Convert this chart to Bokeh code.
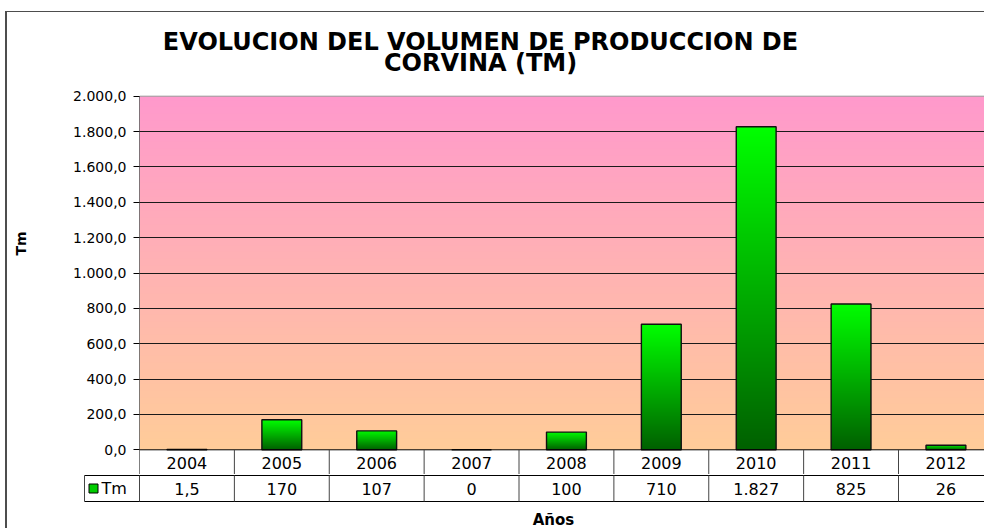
import numpy as np
from bokeh.plotting import figure
from bokeh.models import Range1d, FixedTicker
from bokeh.layouts import column
from bokeh.core.properties import value
from bokeh.embed import file_html
from bokeh.resources import INLINE

# ---------------- data ----------------
years = ["2004", "2005", "2006", "2007", "2008", "2009", "2010", "2011", "2012"]
tm_values = [1.5, 170, 107, 0, 100, 710, 1827, 825, 26]
tm_value_labels = ["1,5", "170", "107", "0", "100", "710", "1.827", "825", "26"]
y_ticks = [0, 200, 400, 600, 800, 1000, 1200, 1400, 1600, 1800, 2000]
y_tick_labels = ["0,0", "200,0", "400,0", "600,0", "800,0", "1.000,0",
                 "1.200,0", "1.400,0", "1.600,0", "1.800,0", "2.000,0"]
title_lines = ["EVOLUCION DEL VOLUMEN DE PRODUCCION DE", "CORVINA (TM)"]
series_name = "Tm"
x_title = "Años"
y_title = "Tm"

# ---------------- layout constants (page pixels) ----------------
FONT = value("DejaVu Sans")
FONT_NAME = "DejaVu Sans"
COL = 94.875                 # px per category
n = len(years)
idx = list(range(n))
X0, Y0 = 7, 12               # content origin on the page
FRAME_L, PAGE_R = 139, 984
ZERO_PX, MAX_PX = 449.3, 95.7
CHART_BOTTOM = 474
PAGE_B = 528
ROW = 26
PXU = y_ticks[-1] / (ZERO_PX - MAX_PX)      # data units per px
x_end = -0.5 + (PAGE_R - FRAME_L) / COL


def px_to_y(py):
    return (ZERO_PX - py) * PXU


def px_to_x(px):
    return (px - FRAME_L) / COL - 0.5


def vgrad(c_bottom, c_top, rows=256):
    t = np.linspace(0.0, 1.0, rows)[:, None]
    a = np.zeros((rows, 1, 4), dtype=np.uint8)
    for k in range(3):
        a[:, :, k] = np.round(c_bottom[k] + (c_top[k] - c_bottom[k]) * t)
    a[:, :, 3] = 255
    return a.view(dtype=np.uint32).reshape(rows, 1)


# ---------------- main chart (title, plot area, years row) ----------------
p = figure(width=PAGE_R - X0, height=CHART_BOTTOM - Y0,
           output_backend="svg", toolbar_location=None,
           x_range=Range1d(-0.5, x_end),
           y_range=Range1d(px_to_y(CHART_BOTTOM), px_to_y(Y0)),
           x_axis_location=None, min_border_left=FRAME_L - X0, min_border_right=0,
           min_border_top=0, min_border_bottom=0)
p.frame_align = False
p.outline_line_color = None
p.border_fill_color = "white"
p.background_fill_color = "white"

bg = vgrad((255, 204, 153), (255, 153, 204))
p.image_rgba(image=[bg], x=-0.5, y=0, dw=n, dh=y_ticks[-1], level="image")

p.xgrid.visible = False
p.ygrid.ticker = FixedTicker(ticks=y_ticks[1:-1])
p.ygrid.grid_line_color = "#1a1a1a"
p.ygrid.grid_line_width = 1

bar_w = 0.42
bar_img = vgrad((0, 96, 0), (0, 255, 0))
p.image_rgba(image=[bar_img] * n, x=[i - bar_w / 2 for i in idx], y=[0] * n,
             dw=[bar_w] * n, dh=tm_values)
p.vbar(x=idx, top=tm_values, width=bar_w, fill_color=None,
       line_color="#111111", line_width=1.4)

row_bottom = -ROW * PXU
p.segment(x0=[-0.5], y0=[row_bottom], x1=[-0.5], y1=[y_ticks[-1]],
          line_color="black", line_width=1)
p.segment(x0=[-0.5], y0=[y_ticks[-1]], x1=[n - 0.5], y1=[y_ticks[-1]],
          line_color="#999999", line_width=1)
p.segment(x0=[-0.5], y0=[0], x1=[n - 0.5], y1=[0],
          line_color="black", line_width=1)

# years row (first row of the data table)
p.segment(x0=[i + 0.5 for i in idx], y0=[row_bottom] * n,
          x1=[i + 0.5 for i in idx], y1=[0] * n,
          line_color="#444444", line_width=1)
p.text(x=idx, y=[row_bottom / 2] * n, text=years, text_align="center",
       text_baseline="middle", text_font=FONT, text_font_size="16px",
       text_color="black")

# chart title
p.text(x=[px_to_x(480)] * 2, y=[px_to_y(41), px_to_y(62.5)], text=title_lines,
       text_align="center", text_baseline="middle", text_font=FONT,
       text_font_size="24px", text_font_style="bold", text_color="black")

ya = p.yaxis[0]
ya.ticker = FixedTicker(ticks=y_ticks)
ya.major_label_overrides = {t: l for t, l in zip(y_ticks, y_tick_labels)}
ya.minor_tick_line_color = None
ya.major_tick_out = 6
ya.major_tick_in = 0
ya.major_tick_line_color = "black"
ya.axis_line_color = None
ya.major_label_standoff = 7
ya.major_label_text_font = FONT_NAME
ya.major_label_text_font_size = "14px"
ya.major_label_text_color = "black"
ya.axis_label = y_title
ya.axis_label_text_font = FONT_NAME
ya.axis_label_text_font_size = "14px"
ya.axis_label_text_font_style = "bold"
ya.axis_label_text_color = "black"
ya.axis_label_standoff = 41

# ---------------- values row of the data table + x title ----------------
HDR_L = 84
t = figure(width=PAGE_R - X0, height=PAGE_B - CHART_BOTTOM,
           output_backend="svg", toolbar_location=None,
           x_range=Range1d(px_to_x(HDR_L - 1), x_end),
           y_range=Range1d(-(PAGE_B - 501) / ROW, 1 + (475 - CHART_BOTTOM) / ROW),
           x_axis_location=None, y_axis_location=None,
           min_border_left=HDR_L - 1 - X0, min_border_right=0,
           min_border_top=0, min_border_bottom=0)
t.frame_align = False
t.outline_line_color = None
t.xgrid.visible = False
t.ygrid.visible = False
t.background_fill_color = "white"
t.border_fill_color = "white"

hdr_left = px_to_x(HDR_L)
t.segment(x0=[hdr_left, hdr_left], y0=[1, 0], x1=[n - 0.5, n - 0.5], y1=[1, 0],
          line_color="black", line_width=1)
t.segment(x0=[i - 0.5 for i in range(n + 1)], y0=[0] * (n + 1),
          x1=[i - 0.5 for i in range(n + 1)], y1=[1] * (n + 1),
          line_color="#444444", line_width=1)
t.segment(x0=[hdr_left], y0=[0], x1=[hdr_left], y1=[1],
          line_color="#444444", line_width=1)

t.text(x=idx, y=[0.5] * n, text=tm_value_labels, text_align="center",
       text_baseline="middle", text_font=FONT, text_font_size="16px",
       text_color="black")

t.scatter(x=[px_to_x(93)], y=[0.5], marker="square", size=9,
          fill_color="#00cc00", line_color="black", line_width=1)
t.text(x=[px_to_x(101)], y=[0.5], text=[series_name], text_align="left",
       text_baseline="middle", text_font=FONT, text_font_size="16px",
       text_color="black")

t.text(x=[px_to_x(553)], y=[(501 - 519) / ROW], text=[x_title],
       text_align="center", text_baseline="middle", text_font=FONT,
       text_font_size="15px", text_font_style="bold", text_color="black")

layout = column(p, t, spacing=0,
                styles={"margin-left": "5px", "margin-top": "11px",
                        "border-left": "2px solid #4d4d4d",
                        "border-top": "1px solid #4d4d4d"})

open("out.html", "w").write(file_html(layout, INLINE))
